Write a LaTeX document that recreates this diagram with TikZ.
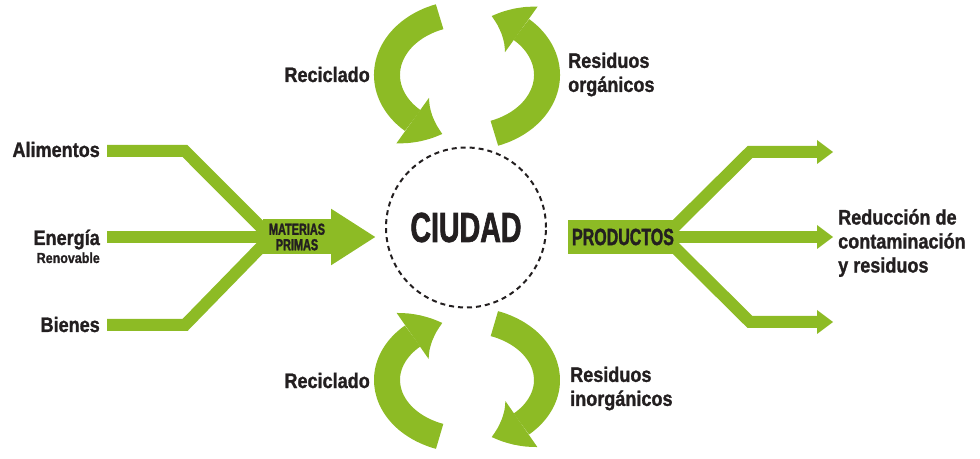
\documentclass[tikz,border=0pt]{standalone}
\usepackage{fontspec}
\usepackage{tikz}
\usetikzlibrary{arrows.meta,bending,backgrounds,calc}
\newfontfamily\lblfont[FakeStretch=0.86, FakeBold=1.2]{Liberation Sans}
\newfontfamily\capfont[FakeStretch=0.68, FakeBold=1.5]{Liberation Sans}
\definecolor{leafgreen}{HTML}{8DBB25}
\definecolor{inkblack}{HTML}{231F20}
\tikzset{
  lbl/.style={font=\lblfont\bfseries\fontsize{21}{24}\selectfont, text=inkblack,
              inner sep=0pt, align=left},
  sublbl/.style={font=\lblfont\bfseries\fontsize{14.5}{16}\selectfont, text=inkblack,
                 inner sep=0pt},
  stem/.style={draw=leafgreen, line width=12pt, line join=miter},
  stemtip/.style={stem, -{Triangle[length=16pt, width=24pt, line width=0pt]}},
  cyc/.style={draw=leafgreen, line width=26pt,
              -{Triangle[length=34pt, width=56pt, line width=0pt, bend]}},
  cityring/.style={circle, draw=inkblack, line width=2pt, dash pattern=on 5pt off 4pt,
                   minimum size=160pt, inner sep=0pt, text=inkblack,
                   font=\capfont\bfseries\fontsize{42}{42}\selectfont},
  capbox/.style={fill=leafgreen, inner sep=0pt, text=inkblack, align=center},
}

\begin{document}
\begin{tikzpicture}[x=1pt, y=1pt]
    \useasboundingbox (0,0) rectangle (980,458);
    \node[cityring] (city) at (466,230.5) {CIUDAD};
    \node[capbox, minimum width=68pt, minimum height=35pt,
          font=\capfont\bfseries\fontsize{16}{15.5}\selectfont] (mp) at (297,221) {MATERIAS\\PRIMAS};
    \node[capbox, minimum width=110pt, minimum height=34pt,
          font=\capfont\bfseries\fontsize{23.5}{24}\selectfont] (prod) at (623,221) {PRODUCTOS};
    \fill[leafgreen] (mp.north east) -- ++(0,10.5) -- ($(mp.east)+(44,0)$)
        -- ($(mp.south east)+(0,-10.5)$) -- (mp.south east) -- cycle;

    \node[lbl, anchor=base east] (alim) at (100,301) {Alimentos};
    \node[lbl, anchor=base east] (ener) at (100,213) {Energía};
    \node[sublbl, anchor=base east] (renov) at (100,195) {Renovable};
    \node[lbl, anchor=base east] (bien) at (100,126) {Bienes};
    \node[lbl, anchor=west] (redu) at (838,215) {Reducción de\\contaminación\\y residuos};
    \node[lbl, anchor=base east] (recA) at (370,376) {Reciclado};
    \node[lbl, anchor=west] (resorg) at (568,383.5) {Residuos\\orgánicos};
    \node[lbl, anchor=base east] (recB) at (370,70) {Reciclado};
    \node[lbl, anchor=west] (resinorg) at (570,69.5) {Residuos\\inorgánicos};

    \coordinate (a0) at (107,307);
    \coordinate (e0) at (107,221);
    \coordinate (b0) at (107,133);
    \coordinate (jn) at ([xshift=8pt]mp.west);
    \coordinate (r1) at (833,306);
    \coordinate (r2) at (833,221);
    \coordinate (r3) at (833,136);
    \coordinate (topc) at (467,383);
    \coordinate (botc) at (467,78);

    \begin{scope}[on background layer]
      \draw[stem] (a0) -- ++(78,0) -- (jn);
      \draw[stem] (e0) -- (jn);
      \draw[stem] (b0) -- ++(78,0) -- (jn);
      \draw[stemtip] ([xshift=-14pt]prod.east) -- (750,306) -- (r1);
      \draw[stemtip] (prod.east) -- (r2);
      \draw[stemtip] ([xshift=-14pt]prod.east) -- (750,136) -- (r3);
    \end{scope}

    \draw[cyc] ($(topc)+(110:80 and 62)$) arc[start angle=110, end angle=252, x radius=80, y radius=62];
    \draw[cyc] ($(topc)+(-70:80 and 62)$) arc[start angle=-70, end angle=72, x radius=80, y radius=62];
    \draw[cyc] ($(botc)+(250:80 and 60)$) arc[start angle=250, end angle=108, x radius=80, y radius=60];
    \draw[cyc] ($(botc)+(70:80 and 60)$) arc[start angle=70, end angle=-72, x radius=80, y radius=60];
  \end{tikzpicture}
\end{document}
